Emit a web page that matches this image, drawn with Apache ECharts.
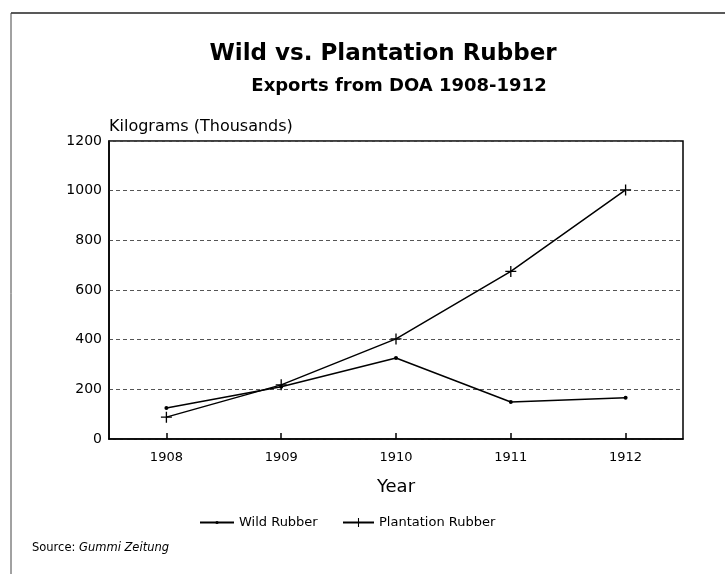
<!DOCTYPE html>
<html>
<head>
<meta charset="utf-8">
<script src="https://cdn.jsdelivr.net/npm/echarts@6/dist/echarts.min.js"></script>
<style>html,body{margin:0;padding:0;background:#fff}#c{width:725px;height:574px}</style>
</head>
<body>
<div id="c"></div>
<script>
const years = ['1908', '1909', '1910', '1911', '1912'];
const wildRubber = [125, 210, 326, 149, 166];
const plantationRubber = [88, 218, 403, 675, 1003];
const yTicks = [0, 200, 400, 600, 800, 1000, 1200];

const FONT = '"DejaVu Sans", "Liberation Sans", Arial, sans-serif';
const plus = 'path://M0,4.4 H10 V5.6 H0 Z M4.4,0 H5.6 V10 H4.4 Z';

const chart = echarts.init(document.getElementById('c'), null, {renderer: 'canvas'});
chart.setOption({
  backgroundColor: '#fff',
  animation: false,
  textStyle: {fontFamily: FONT, color: '#000'},
  title: [
    {text: 'Wild vs. Plantation Rubber', left: 378, top: 38, textAlign: 'center',
     textStyle: {fontFamily: FONT, fontSize: 23, fontWeight: 'bold', color: '#000'}},
    {text: 'Exports from DOA 1908-1912', left: 394, top: 72, textAlign: 'center',
     textStyle: {fontFamily: FONT, fontSize: 18, fontWeight: 'bold', color: '#000'}}
  ],
  graphic: [
    {type: 'line', shape: {x1: 11, y1: 13, x2: 725, y2: 13}, style: {stroke: '#222', lineWidth: 1.5}},
    {type: 'line', shape: {x1: 11, y1: 13, x2: 11, y2: 574}, style: {stroke: '#444', lineWidth: 1}},
    {type: 'text', left: 32, top: 542, style: {
      text: '{n|Source: }{i|Gummi Zeitung}',
      rich: {
        n: {fontFamily: FONT, fontSize: 11.5, fill: '#000'},
        i: {fontFamily: FONT, fontSize: 11.5, fontStyle: 'italic', fill: '#000'}
      }}}
  ],
  legend: [
    {left: 194, bottom: 40, itemWidth: 34, itemHeight: 4,
     textStyle: {fontFamily: FONT, fontSize: 13, color: '#000'},
     data: ['Wild Rubber']},
    {left: 337, bottom: 40, itemWidth: 31, itemHeight: 11,
     textStyle: {fontFamily: FONT, fontSize: 13, color: '#000'},
     data: ['Plantation Rubber']}
  ],
  grid: {left: 109, right: 42, top: 141, bottom: 135, show: true, borderColor: '#000', borderWidth: 1.5, backgroundColor: 'transparent'},
  xAxis: {
    type: 'category', data: years, boundaryGap: true,
    name: 'Year', nameLocation: 'middle', nameGap: 39,
    nameTextStyle: {fontFamily: FONT, fontSize: 18, color: '#000'},
    axisLine: {lineStyle: {color: '#000', width: 1.5}},
    axisTick: {show: true, inside: true, alignWithLabel: true, length: 6, lineStyle: {color: '#000', width: 1.5}},
    axisLabel: {fontFamily: FONT, fontSize: 13, color: '#000', margin: 12},
    splitLine: {show: false}
  },
  yAxis: {
    type: 'value', min: 0, max: 1200, interval: 200,
    name: 'Kilograms (Thousands)', nameLocation: 'end', nameGap: 6,
    nameTextStyle: {fontFamily: FONT, fontSize: 16, color: '#000', align: 'left'},
    axisLine: {show: true, lineStyle: {color: '#000', width: 1.5}},
    axisTick: {show: false},
    axisLabel: {fontFamily: FONT, fontSize: 14, color: '#000', margin: 7,
      formatter: v => yTicks.indexOf(v) >= 0 ? String(v) : ''},
    splitLine: {show: true, lineStyle: {color: '#555', type: [4, 3], width: 1}}
  },
  series: [
    {name: 'Wild Rubber', type: 'line', data: wildRubber,
     symbol: 'circle', symbolSize: 4, showSymbol: true,
     lineStyle: {color: '#000', width: 1.5}, itemStyle: {color: '#000'}},
    {name: 'Plantation Rubber', type: 'line', data: plantationRubber,
     symbol: plus, symbolSize: 11, showSymbol: true,
     lineStyle: {color: '#000', width: 1.5}, itemStyle: {color: '#000'}}
  ]
});
</script>
</body>
</html>
